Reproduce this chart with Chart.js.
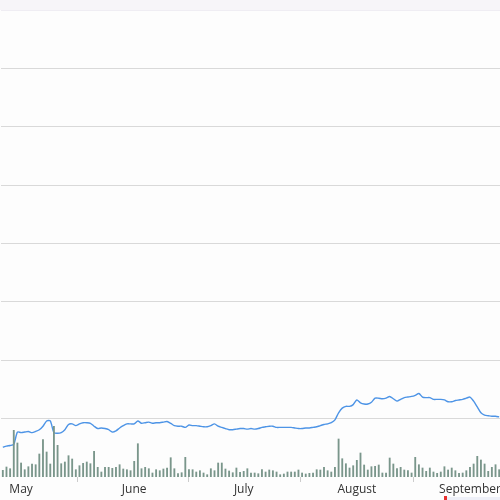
<!DOCTYPE html>
<html>
<head>
<meta charset="utf-8">
<script src="https://cdn.jsdelivr.net/npm/chart.js@4"></script>
<style>
  html, body { margin: 0; padding: 0; width: 500px; height: 500px; overflow: hidden; background: #fdfdfd; }
  #band { position: absolute; left: 0; top: 0; width: 500px; height: 10px; background: #f7f5f9; }
  #nav { position: absolute; left: 447px; top: 497px; width: 53px; height: 3px; background: #eef0f8; }
  #navMark { position: absolute; left: 444px; top: 496px; width: 3px; height: 4px; background: #e8312f; }
  #chart { position: absolute; left: 1px; top: 0; }
</style>
</head>
<body>
<div id="band"></div>
<div id="nav"></div>
<div id="navMark"></div>
<canvas id="chart" width="500" height="500"></canvas>
<script>
// daily series, starting 26 April
const startDate = Date.UTC(2023, 3, 26);
const monthLabels = ['May', 'June', 'July', 'August', 'September'];

const closes = [
  5.1, 5.3, 5.4, 5.6, 7.7, 7.6, 7.7, 7.8, 7.6, 7.8,
  8.1, 8.7, 9.6, 9.6, 7.6, 7.5, 7.6, 8.1, 9.0, 9.1,
  8.8, 9.1, 9.3, 9.3, 9.2, 8.7, 8.3, 8.4, 8.3, 8.1,
  7.7, 7.9, 8.4, 8.8, 9.1, 9.1, 9.1, 9.6, 9.2, 9.3,
  9.4, 9.2, 9.3, 9.3, 9.4, 9.5, 9.2, 8.8, 8.7, 8.7,
  8.5, 8.9, 8.8, 8.8, 8.7, 8.6, 8.6, 8.8, 9.1, 8.7,
  8.5, 8.3, 8.1, 8.1, 8.2, 8.3, 8.3, 8.2, 8.3, 8.2,
  8.3, 8.5, 8.6, 8.7, 8.7, 8.5, 8.5, 8.5, 8.5, 8.5,
  8.4, 8.3, 8.3, 8.4, 8.4, 8.5, 8.6, 8.8, 9.0, 9.1,
  9.3, 9.8, 11.0, 11.8, 12.1, 12.1, 12.4, 13.2, 12.7, 12.5,
  12.5, 12.8, 13.5, 13.5, 13.4, 13.5, 13.8, 13.4, 13.0, 13.3,
  13.6, 13.7, 13.8, 14.0, 14.3, 13.7, 13.6, 13.6, 13.3, 13.3,
  13.3, 13.2, 12.9, 12.9, 13.1, 13.2, 13.3, 13.5, 13.7, 13.0,
  12.0, 11.0, 10.6, 10.5, 10.4, 10.4, 10.3
];

const volumes = [
  6.7, 10, 8.3, 46.7, 34, 14, 7.3, 10.3, 13, 12.3, 23, 37.3, 25, 13, 50.7, 31.7, 13.3,
  15, 21.3, 18, 7.3, 11.3, 13.7, 15, 13.3, 25.7, 9.7, 5, 9.7, 9.7, 8.7, 9.7, 12.3, 8,
  7.3, 6.3, 15.7, 33.3, 8.3, 9.7, 8.3, 4, 7.3, 6.3, 8, 9, 19.3, 8.3, 3.3, 4.3, 19.7,
  7.3, 7.3, 5, 6.3, 4, 2.3, 8.3, 6.3, 14, 14, 8, 6, 4.3, 9, 4.7, 5.7, 8.3,
  4, 4, 3.3, 7.3, 5, 7, 6.3, 5, 2.3, 3, 5, 5, 5, 7, 4, 3, 3.7,
  4, 7.3, 7, 9.7, 6.3, 5, 9.7, 38, 18.3, 13.3, 9, 11.3, 16.7, 24, 12, 7, 10.3,
  10.7, 12, 4, 4, 19, 13, 8.3, 9.7, 7, 6.3, 4, 19.7, 12.3, 9, 5.7, 9, 5, 3.7,
  5, 10.3, 7, 9, 6.3, 3.7, 4, 6.3, 9.7, 13, 20.7, 17, 13, 5.7, 9.7, 12.3, 7.3
];

const dates = closes.map((_, i) => new Date(startDate + i * 86400000));
const labels = dates.map(d => d.toISOString().slice(0, 10));

new Chart(document.getElementById('chart'), {
  data: {
    labels: labels,
    datasets: [
      {
        type: 'bar',
        data: volumes,
        yAxisID: 'vol',
        backgroundColor: '#7a968b',
        barThickness: 1.2,
        order: 0,
      },
      {
        type: 'line',
        data: closes,
        yAxisID: 'y',
        borderColor: '#4d94e6',
        borderWidth: 1.4,
        pointRadius: 0,
        tension: 0.25,
        order: 1,
      },
    ],
  },
  options: {
    responsive: false,
    animation: false,
    layout: { padding: { top: 10, left: 0, right: 0, bottom: 0 } },
    plugins: { legend: { display: false }, tooltip: { enabled: false } },
    scales: {
      x: {
        offset: true,
        border: { display: false },
        grid: { drawOnChartArea: false, drawTicks: true, tickLength: 5, color: '#cccccc' },
        ticks: {
          autoSkip: false,
          maxRotation: 0,
          padding: 0,
          color: '#333333',
          font: { family: 'Open Sans', size: 12 },
          callback: (value, index) => {
            const d = dates[index];
            return d.getUTCDate() === 1 ? monthLabels[d.getUTCMonth() - 4] : null;
          },
        },
        // let the last label run to the edge instead of shrinking the plot
        afterFit: scale => {
          scale.paddingLeft = 0;
          scale.paddingRight = 0;
          scale.height = 23;
        },
      },
      y: {
        position: 'left',
        min: 0,
        max: 80,
        border: { display: false },
        grid: {
          drawTicks: false,
          color: ctx => (ctx.index === 0 ? 'rgba(0,0,0,0)' : ctx.index === 8 ? '#efedf3' : '#d9d9d9'),
        },
        ticks: { display: false, stepSize: 10 },
      },
      vol: {
        display: false,
        min: 0,
        max: 467,
      },
    },
  },
});
</script>
</body>
</html>
